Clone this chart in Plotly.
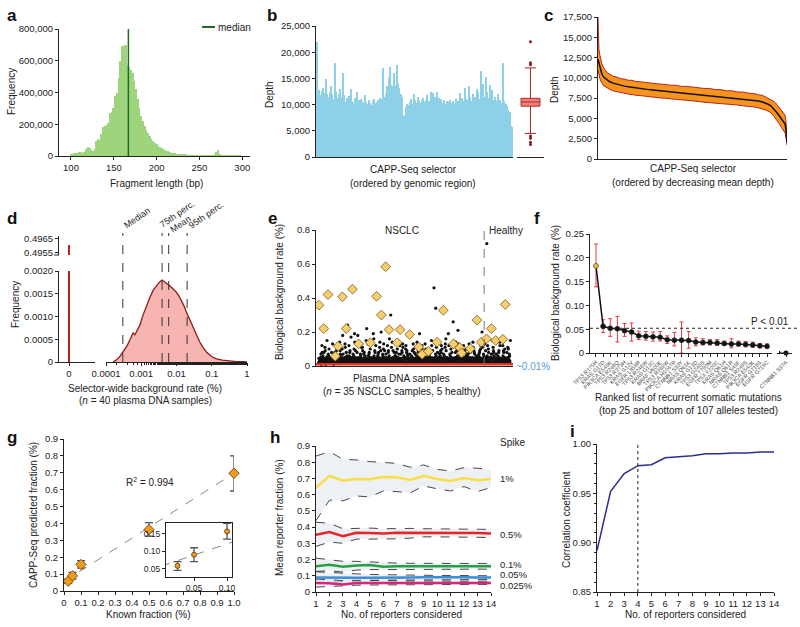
import math
import plotly.graph_objects as go

W, H = 800, 627
FONT = 'Liberation Sans, Arial, sans-serif'

# ---- a: fragment length histogram (counts in thousands, 2 bp bins)
frag_len = list(range(100, 300, 2))
frag_count_k = [12, 15, 18, 20, 22, 25, 24, 22, 28, 45,
                55, 48, 35, 30, 45, 95, 110, 100, 140, 185,
                190, 195, 210, 270, 280, 300, 380, 400, 490, 600,
                690, 695, 700, 575, 560, 540, 525, 470, 420, 360,
                300, 255, 220, 190, 165, 145, 125, 110, 95, 85,
                75, 65, 58, 50, 44, 38, 33, 29, 25, 22,
                19, 16, 14, 12, 10, 9, 8, 7, 6, 5,
                5, 4, 4, 3, 3, 3, 3, 2, 2, 2,
                2, 2, 2, 3, 8, 25, 38, 12, 3, 2,
                2, 2, 2, 2, 2, 2, 2, 3, 3, 2]
frag_median = 167

# ---- b: depth along selector (ordered by genomic region)
b_depth = [22000, 12500, 12800, 11800, 12600, 13200, 12200, 14800, 12000, 11500,
           12400, 13500, 12000, 11000, 18000, 12500, 11200, 12000, 13000, 11500,
           16000, 11800, 10500, 11200, 10800, 11600,
           13000, 10600, 10400, 11200, 10500, 12500, 10800, 10200, 11000, 10600,
           10400, 11800, 10500, 10200, 10800, 10400, 10000, 10600, 11000, 10300,
           10500, 10800, 11200, 10500, 11000,
           17000, 11500, 12000, 13500, 15000, 17200, 13800, 13500, 16000, 13800,
           17500, 14000, 13200, 12000, 11500,
           8000, 7800, 9500, 10200, 10000,
           10500, 11000, 10200, 12000, 10800, 10400, 11500, 10600, 10300, 10900,
           11200, 10500, 10800, 11800, 10400, 10700, 12500, 11000, 12300, 11500,
           10800, 12400, 11200, 10600, 11000, 10400, 10800, 10200, 10600, 10500,
           10400, 10800, 10300, 10600, 10200, 11000, 10500, 10700, 12200, 10400,
           11200, 10600, 13200, 11000, 10800, 13500, 11400, 10600, 12000, 11000,
           11500, 13000, 12500, 11000, 16500, 12000, 14000, 11500, 15200, 12400,
           11200, 13800, 11000, 12800, 10800, 11400, 10600, 12000, 10500, 10800,
           10400, 18000, 10600, 10200, 9800, 9000, 8500, 6000, 5800]
b_box = dict(q1=9700, median=10500, q3=11200, low=4500, high=17000)
b_outliers = [22000, 18000, 17600, 4000, 3600, 2800, 2400]

# ---- c: depth ordered by decreasing mean
c_pos = [0, 0.5, 1, 1.5, 2, 3, 4, 5, 6, 8, 10, 12, 14, 16, 18, 20, 23, 26, 29, 32,
         35, 38, 41, 44, 47, 50, 53, 56, 59, 62, 65, 68, 71, 74, 77, 80, 83, 85, 87,
         88.5, 90, 91.5, 93, 94, 95, 96, 97, 98, 99, 99.5, 100]
c_mean = [12300, 11800, 11200, 10800, 10500, 10100, 9900, 9700, 9550, 9350, 9200,
          9080, 8980, 8900, 8820, 8750, 8660, 8580, 8500, 8430, 8360, 8290, 8220,
          8160, 8100, 8030, 7970, 7900, 7840, 7770, 7700, 7630, 7560, 7490, 7420,
          7340, 7250, 7150, 7020, 6900, 6750, 6550, 6200, 5900, 5600, 5300, 5000,
          4700, 4300, 3500, 2000]
c_upper = [17500, 13500, 12800, 12200, 11800, 11200, 10900, 10600, 10500, 10200,
           10100, 9900, 9850, 9700, 9700, 9550, 9500, 9400, 9350, 9250, 9200, 9100,
           9100, 8950, 8950, 8850, 8800, 8700, 8700, 8550, 8550, 8400, 8400, 8250,
           8250, 8100, 8050, 7900, 7850, 7650, 7550, 7350, 7100, 6900, 6600, 6400,
           6100, 5800, 5400, 4500, 2400]
c_lower = [11000, 10200, 9900, 9600, 9400, 9000, 8900, 8700, 8600, 8400, 8300, 8150,
           8100, 8000, 7950, 7850, 7800, 7700, 7650, 7550, 7500, 7400, 7350, 7300,
           7250, 7150, 7100, 7000, 6950, 6900, 6850, 6750, 6700, 6650, 6550, 6500,
           6400, 6300, 6200, 6050, 5900, 5700, 5300, 5000, 4600, 4300, 3900, 3600,
           3200, 2600, 1700]

# ---- d: selector-wide background rate distribution
d_rate_log10 = [-3.80, -3.70, -3.60, -3.50, -3.40, -3.30, -3.23, -3.18, -3.10, -3.04,
                -2.95, -2.85, -2.75, -2.66, -2.55, -2.48, -2.41, -2.35, -2.28, -2.20,
                -2.10, -2.00, -1.93, -1.86, -1.79, -1.72, -1.62, -1.53, -1.44, -1.34,
                -1.25, -1.15, -1.00, -0.87, -0.70, -0.50, -0.30, -0.10, 0.0]
d_freq = [0, 0.00005, 0.00013, 0.00024, 0.00036, 0.00052, 0.00064, 0.00060, 0.00072,
          0.00081, 0.00103, 0.00125, 0.00143, 0.00158, 0.00170, 0.00176, 0.00180,
          0.00177, 0.00173, 0.00168, 0.00161, 0.00153, 0.00145, 0.00136, 0.00124,
          0.00110, 0.00092, 0.00074, 0.00058, 0.00044, 0.00032, 0.00022, 0.00012,
          0.00007, 0.00004, 0.00002, 0.00001, 0.000005, 0]
d_zero_freq = 0.49605
d_stat_names = ['Median', '75th perc.', 'Mean', '95th perc.']
d_stat_values = [0.0003, 0.0039, 0.006, 0.02]

# ---- e: biological background per sample
e_dots = [
    [0.02, 0.05, 0.08, 0.03, 0.01, 0.06, 0.04, 0.12, 0.02, 0.07],
    [0.03, 0.09, 0.15, 0.04, 0.02, 0.06, 0.11, 0.05, 0.08, 0.01],
    [0.07, 0.02, 0.05, 0.10, 0.03, 0.13, 0.04, 0.08, 0.06, 0.02],
    [0.04, 0.08, 0.02, 0.06, 0.12, 0.05, 0.03, 0.09, 0.01, 0.07],
    [0.02, 0.14, 0.05, 0.03, 0.07, 0.10, 0.04, 0.06, 0.02, 0.09],
    [0.18, 0.05, 0.08, 0.03, 0.11, 0.06, 0.02, 0.04, 0.07, 0.13],
    [0.24, 0.06, 0.17, 0.04, 0.09, 0.03, 0.12, 0.05, 0.02, 0.08],
    [0.05, 0.10, 0.03, 0.07, 0.14, 0.02, 0.06, 0.09, 0.04, 0.19],
    [0.08, 0.03, 0.06, 0.18, 0.04, 0.11, 0.02, 0.07, 0.05, 0.13],
    [0.04, 0.07, 0.02, 0.09, 0.05, 0.15, 0.03, 0.06, 0.11, 0.08],
    [0.22, 0.06, 0.10, 0.04, 0.08, 0.03, 0.13, 0.05, 0.02, 0.07],
    [0.05, 0.19, 0.08, 0.03, 0.06, 0.12, 0.04, 0.09, 0.02, 0.16],
    [0.03, 0.07, 0.14, 0.05, 0.02, 0.09, 0.06, 0.11, 0.04, 0.08],
    [0.20, 0.06, 0.09, 0.04, 0.13, 0.03, 0.07, 0.05, 0.02, 0.10],
    [0.07, 0.04, 0.16, 0.05, 0.09, 0.02, 0.12, 0.06, 0.03, 0.08],
    [0.30, 0.05, 0.08, 0.11, 0.03, 0.06, 0.14, 0.04, 0.02, 0.09],
    [0.06, 0.10, 0.04, 0.08, 0.03, 0.12, 0.05, 0.07, 0.02, 0.15],
    [0.04, 0.08, 0.06, 0.03, 0.11, 0.05, 0.09, 0.02, 0.07, 0.13],
    [0.05, 0.09, 0.03, 0.12, 0.06, 0.04, 0.08, 0.02, 0.10, 0.07],
    [0.07, 0.04, 0.10, 0.05, 0.03, 0.08, 0.06, 0.13, 0.02, 0.09],
    [0.03, 0.06, 0.09, 0.04, 0.11, 0.05, 0.02, 0.08, 0.07, 0.14],
    [0.19, 0.05, 0.07, 0.03, 0.10, 0.06, 0.04, 0.08, 0.02, 0.12],
    [0.04, 0.08, 0.05, 0.13, 0.03, 0.07, 0.10, 0.02, 0.06, 0.09],
    [0.06, 0.03, 0.09, 0.05, 0.12, 0.04, 0.08, 0.02, 0.07, 0.15],
    [0.46, 0.34, 0.08, 0.05, 0.11, 0.03, 0.07, 0.14, 0.04, 0.06],
    [0.05, 0.09, 0.03, 0.07, 0.12, 0.04, 0.06, 0.10, 0.02, 0.08],
    [0.07, 0.13, 0.04, 0.06, 0.09, 0.03, 0.11, 0.05, 0.02, 0.16],
    [0.19, 0.06, 0.08, 0.04, 0.10, 0.03, 0.07, 0.05, 0.12, 0.02],
    [0.26, 0.05, 0.09, 0.03, 0.14, 0.06, 0.04, 0.11, 0.02, 0.08],
    [0.21, 0.07, 0.04, 0.10, 0.05, 0.03, 0.08, 0.06, 0.13, 0.02],
    [0.04, 0.09, 0.06, 0.12, 0.03, 0.07, 0.05, 0.10, 0.02, 0.08],
    [0.06, 0.03, 0.10, 0.05, 0.08, 0.04, 0.13, 0.02, 0.07, 0.09],
    [0.05, 0.08, 0.04, 0.11, 0.03, 0.06, 0.09, 0.02, 0.14, 0.07],
    [0.03, 0.07, 0.12, 0.05, 0.09, 0.04, 0.06, 0.10, 0.02, 0.08],
    [0.20, 0.06, 0.09, 0.04, 0.13, 0.03, 0.07, 0.05, 0.11, 0.02],
    [0.72, 0.08, 0.05, 0.12, 0.03, 0.07, 0.10, 0.04, 0.06, 0.02],
    [0.05, 0.09, 0.03, 0.15, 0.06, 0.04, 0.11, 0.02, 0.07, 0.08],
    [0.07, 0.04, 0.12, 0.05, 0.09, 0.03, 0.06, 0.14, 0.02, 0.08],
    [0.16, 0.06, 0.10, 0.04, 0.08, 0.03, 0.12, 0.05, 0.02, 0.09],
    [0.04, 0.11, 0.06, 0.08, 0.03, 0.15, 0.05, 0.07, 0.02, 0.10],
]
# second, denser layer of low-level calls near the floor
e_low = [0.015, 0.025, 0.035, 0.045, 0.02, 0.03, 0.04, 0.05]
e_diamond_sample = [0.6, 1.6, 2.5, 4.0, 4.6, 5.5, 6.3, 7.6, 8.9, 11.3, 12.6, 13.6, 14.5,
                    15.2, 16.9, 17.5, 19.5, 21.4, 22.1, 23.4, 25.2, 26.5, 28.6, 29.9,
                    30.3, 32.1, 33.5, 34.4, 35.5, 36.5, 37.4, 38.9, 39.4]
e_diamond_rate = [0.358, 0.22, 0.42, 0.057, 0.116, 0.407, 0.22, 0.452, 0.13, 0.137,
                  0.41, 0.30, 0.584, 0.214, 0.137, 0.214, 0.185, 0.112, 0.069, 0.086,
                  0.14, 0.328, 0.13, 0.108, 0.077, 0.102, 0.27, 0.14, 0.16, 0.22,
                  0.15, 0.157, 0.362]
e_n_nsclc = 35
e_n_total = 40
e_floor = 0.01

# ---- f: ranked recurrent mutations
f_labels = ['TP53 R175H', 'KRAS G12D', 'PIK3CA E545K', 'TP53 R248Q', 'TP53 R273H',
            'KRAS G12V', 'EGFR L858R', 'TP53 R248W', 'KRAS G12C', 'BRAF V600E',
            'TP53 R282W', 'PIK3CA H1047R', 'CTNNB1 S33Y', 'NRAS Q61K', 'KRAS G13D',
            'TP53 G245S', 'EGFR T790M', 'TP53 Y220C', 'KRAS Q61H', 'NRAS Q61R',
            'CTNNB1 S45F', 'TP53 R249S', 'PIK3CA E542K', 'EGFR G719S', 'EGFR G719C']
f_rate = [0.183, 0.056, 0.052, 0.051, 0.047, 0.044, 0.036, 0.035, 0.034, 0.033,
          0.028, 0.027, 0.027, 0.026, 0.023, 0.022, 0.022, 0.021, 0.020, 0.019,
          0.019, 0.018, 0.017, 0.015, 0.014]
f_err_hi = [0.229, 0.070, 0.072, 0.077, 0.062, 0.063, 0.046, 0.045, 0.044, 0.045,
            0.036, 0.043, 0.065, 0.045, 0.032, 0.030, 0.028, 0.028, 0.025, 0.030,
            0.025, 0.024, 0.023, 0.020, 0.019]
f_err_lo = [0.139, 0.043, 0.035, 0.023, 0.035, 0.025, 0.028, 0.027, 0.025, 0.025,
            0.020, 0.015, 0.000, 0.010, 0.015, 0.017, 0.017, 0.016, 0.016, 0.011,
            0.015, 0.013, 0.012, 0.011, 0.010]
f_last_label = 'CTNNB1 S37A'
f_last_rate = 0.0
f_threshold = 0.052

# ---- g: spike-in dilution
g_known = [0.025, 0.05, 0.1, 0.5, 1.0]
g_pred = [0.058, 0.090, 0.157, 0.363, 0.697]
g_hi = [0.070, 0.110, 0.180, 0.405, 0.800]
g_lo = [0.045, 0.070, 0.135, 0.325, 0.592]
g_slope, g_intercept = 0.64, 0.057

# ---- h: mean reporter fraction by number of reporters
h_n = list(range(1, 15))
h_spikes = ['1%', '0.5%', '0.1%', '0.05%', '0.025%']
h_colors = ['#F6DF4A', '#E5262A', '#25A044', '#3B8FD8', '#D8267F']
h_mean = [
    [0.644, 0.715, 0.687, 0.697, 0.695, 0.709, 0.707, 0.691, 0.717, 0.697, 0.685, 0.703, 0.689, 0.697],
    [0.353, 0.369, 0.344, 0.365, 0.363, 0.361, 0.365, 0.365, 0.366, 0.365, 0.365, 0.364, 0.364, 0.361],
    [0.158, 0.168, 0.156, 0.164, 0.166, 0.156, 0.158, 0.158, 0.158, 0.160, 0.158, 0.156, 0.157, 0.158],
    [0.090, 0.088, 0.090, 0.088, 0.088, 0.090, 0.089, 0.090, 0.091, 0.092, 0.090, 0.091, 0.090, 0.090],
    [0.055, 0.054, 0.046, 0.055, 0.056, 0.055, 0.056, 0.055, 0.056, 0.056, 0.057, 0.056, 0.057, 0.056],
]
h_upper = [
    [0.838, 0.865, 0.818, 0.814, 0.804, 0.800, 0.793, 0.769, 0.783, 0.756, 0.746, 0.767, 0.763, 0.754],
    [0.430, 0.424, 0.390, 0.394, 0.394, 0.390, 0.392, 0.392, 0.390, 0.390, 0.388, 0.388, 0.386, 0.386],
    [0.209, 0.199, 0.189, 0.189, 0.185, 0.178, 0.178, 0.177, 0.178, 0.177, 0.176, 0.176, 0.176, 0.176],
    [0.125, 0.120, 0.113, 0.112, 0.108, 0.106, 0.104, 0.104, 0.103, 0.102, 0.102, 0.101, 0.100, 0.100],
    [0.080, 0.075, 0.070, 0.072, 0.070, 0.070, 0.069, 0.068, 0.068, 0.067, 0.067, 0.066, 0.066, 0.066],
]
h_lower = [
    [0.440, 0.566, 0.562, 0.592, 0.586, 0.623, 0.619, 0.611, 0.654, 0.636, 0.623, 0.650, 0.619, 0.644],
    [0.281, 0.308, 0.300, 0.326, 0.326, 0.326, 0.328, 0.332, 0.340, 0.340, 0.340, 0.338, 0.340, 0.336],
    [0.127, 0.131, 0.123, 0.135, 0.138, 0.138, 0.140, 0.140, 0.141, 0.140, 0.141, 0.141, 0.140, 0.141],
    [0.055, 0.060, 0.065, 0.070, 0.072, 0.073, 0.074, 0.075, 0.075, 0.076, 0.076, 0.076, 0.077, 0.077],
    [0.030, 0.035, 0.038, 0.042, 0.043, 0.044, 0.045, 0.045, 0.046, 0.046, 0.046, 0.046, 0.047, 0.047],
]

# ---- i: correlation vs number of reporters
i_n = list(range(1, 15))
i_corr = [0.892, 0.952, 0.970, 0.978, 0.979, 0.986, 0.987, 0.988, 0.990, 0.990,
          0.991, 0.991, 0.992, 0.992]
i_cut = 4


def px(x):
    return x / W


def py(y):
    return 1 - y / H


def dx(a, b):
    return [a / W, b / W]


def dy(top, bottom):
    return [1 - bottom / H, 1 - top / H]


base = dict(showline=True, linecolor='#222', linewidth=1, ticks='outside', ticklen=3,
            tickcolor='#222', tickwidth=1, showgrid=False, zeroline=False, automargin=False,
            tickfont=dict(size=9.5, color='#222', family=FONT), fixedrange=True)
noticks = dict(showline=True, linecolor='#222', linewidth=1, ticks='', showticklabels=False,
               showgrid=False, zeroline=False, fixedrange=True, automargin=False)

fig = go.Figure()
layout = {}
shapes = []
annotations = []


def title(text, x, y, angle=0, size=10, xanchor='center', yanchor='middle', color='#222'):
    annotations.append(dict(text=text, x=px(x), y=py(y), xref='paper', yref='paper',
                            showarrow=False, textangle=angle, xanchor=xanchor, yanchor=yanchor,
                            font=dict(size=size, family=FONT, color=color)))


# ---------------- a
fig.add_trace(go.Bar(x=frag_len, y=[c * 1000 for c in frag_count_k], width=2,
                     marker=dict(color='#9ED47B', line=dict(width=0)),
                     xaxis='x', yaxis='y'))
layout['xaxis'] = dict(base, domain=dx(59, 250), anchor='y', range=[86, 309],
                       tickvals=[100, 150, 200, 250, 300])
layout['yaxis'] = dict(base, domain=dy(29, 156), anchor='x', range=[0, 800000],
                       tickvals=[0, 200000, 400000, 600000, 800000], tickformat=',')
shapes.append(dict(type='line', xref='x', yref='y', x0=frag_median, x1=frag_median,
                   y0=0, y1=800000, line=dict(color='#1E6B2A', width=1.5)))
shapes.append(dict(type='line', xref='paper', yref='paper', x0=px(202), x1=px(215),
                   y0=py(27), y1=py(27), line=dict(color='#1E6B2A', width=2)))
title('median', 216, 27, xanchor='left')
title('Frequency', 12, 92, angle=-90)
title('Fragment length (bp)', 156, 183)

# ---------------- b
fig.add_trace(go.Bar(x=list(range(len(b_depth))), y=b_depth, width=1,
                     marker=dict(color='#8DD0E8', line=dict(width=0)),
                     xaxis='x2', yaxis='y2'))
layout['xaxis2'] = dict(noticks, domain=dx(316, 513), anchor='y2',
                        range=[-0.5, len(b_depth) - 0.5])
layout['yaxis2'] = dict(base, domain=dy(26, 157), anchor='x2', range=[0, 25000],
                        tickvals=[0, 5000, 10000, 15000, 20000, 25000], tickformat=',')
fig.add_trace(go.Box(x=[0], q1=[b_box['q1']], median=[b_box['median']], q3=[b_box['q3']],
                     lowerfence=[b_box['low']], upperfence=[b_box['high']],
                     fillcolor='#F2817C', line=dict(color='#B3261E', width=1),
                     width=0.7, whiskerwidth=0.6, boxpoints=False,
                     xaxis='x3', yaxis='y3'))
fig.add_trace(go.Scatter(x=[0] * len(b_outliers), y=b_outliers, mode='markers',
                         marker=dict(size=3, color='#8B1A1A'), xaxis='x3', yaxis='y3'))
layout['xaxis3'] = dict(noticks, domain=dx(517, 544), anchor='y3', range=[-0.5, 0.5])
layout['yaxis3'] = dict(noticks, domain=dy(26, 157), anchor='x3', range=[0, 25000],
                        showline=False)
title('Depth', 270, 95, angle=-90)
title('CAPP-Seq selector', 413, 169)
title('(ordered by genomic region)', 413, 183)

# ---------------- c
fig.add_trace(go.Scatter(x=c_pos, y=c_lower, mode='lines', line=dict(color='#B0271F', width=1),
                         xaxis='x4', yaxis='y4'))
fig.add_trace(go.Scatter(x=c_pos, y=c_upper, mode='lines', line=dict(color='#B0271F', width=1),
                         fill='tonexty', fillcolor='#F7941D', xaxis='x4', yaxis='y4'))
fig.add_trace(go.Scatter(x=c_pos, y=c_mean, mode='lines', line=dict(color='#111', width=1.5),
                         xaxis='x4', yaxis='y4'))
layout['xaxis4'] = dict(noticks, domain=dx(598, 787), anchor='y4', range=[0, 100])
layout['yaxis4'] = dict(base, domain=dy(17, 159), anchor='x4', range=[0, 17500],
                        tickvals=list(range(0, 17501, 2500)), tickformat=',')
title('Depth', 555, 90, angle=-90)
title('CAPP-Seq selector', 693, 168)
title('(ordered by decreasing mean depth)', 693, 182)

# ---------------- d
fig.add_trace(go.Scatter(x=[0, 0], y=[0, 0.002], mode='lines', line=dict(color='#B3261E', width=2),
                         xaxis='x5', yaxis='y5'))
fig.add_trace(go.Scatter(x=[0, 0], y=[0.4953, d_zero_freq], mode='lines',
                         line=dict(color='#B3261E', width=2), xaxis='x5', yaxis='y6'))
fig.add_trace(go.Scatter(x=[10 ** v for v in d_rate_log10], y=d_freq, mode='lines',
                         line=dict(color='#8E1B1B', width=1.3), fill='tozeroy',
                         fillcolor='#F6B5B0', xaxis='x6', yaxis='y5'))
layout['xaxis5'] = dict(base, domain=dx(59, 95), anchor='y5', range=[-0.5, 1.3],
                        tickvals=[0], ticktext=['0'])
layout['xaxis6'] = dict(base, domain=dx(106, 247), anchor='y5', type='log', range=[-4, 0],
                        tickvals=[0.0001, 0.001, 0.01, 0.1, 1],
                        ticktext=['0.0001', '0.001', '0.01', '0.1', '1'],
                        minor=dict(ticks='outside', ticklen=2, tickcolor='#222'))
layout['yaxis5'] = dict(base, domain=dy(271, 362), anchor='x5', range=[0, 0.002],
                        tickvals=[0, 0.0005, 0.001, 0.0015, 0.002],
                        ticktext=['0', '0.0005', '0.0010', '0.0015', '0.0020'])
layout['yaxis6'] = dict(base, domain=dy(236, 255), anchor='x5', range=[0.49534, 0.49669],
                        tickvals=[0.4955, 0.4965], ticktext=['0.4955', '0.4965'])
# little break mark closing the upper y-axis segment
shapes.append(dict(type='line', xref='paper', yref='paper', x0=px(54), x1=px(59),
                   y0=py(255), y1=py(255), line=dict(color='#222', width=1)))
label_shift = {'Median': (0, 0), '75th perc.': (-3, 1), 'Mean': (1, -4), '95th perc.': (1, 0)}
for name, val in zip(d_stat_names, d_stat_values):
    shapes.append(dict(type='line', xref='x6', yref='paper', x0=val, x1=val,
                       y0=py(362), y1=py(233), line=dict(color='#333', width=1, dash='dash')))
    sx, sy = label_shift[name]
    annotations.append(dict(text=name, x=math.log10(val), xref='x6', y=py(233), yref='paper',
                            showarrow=False, textangle=-35, xanchor='left', yanchor='bottom',
                            xshift=-4 + sx, yshift=sy,
                            font=dict(size=9, family=FONT, color='#222')))
title('Frequency', 15, 305, angle=-90)
title('Selector-wide background rate (%)', 145, 388)
title('(<i>n</i> = 40 plasma DNA samples)', 145, 400)

# ---------------- e
dot_x, dot_y = [], []
for s, vals in enumerate(e_dots, start=1):
    row = vals + e_low
    for j, v in enumerate(row):
        dot_x.append(s - 0.45 + 0.9 * ((j * 7) % len(row)) / (len(row) - 1))
        dot_y.append(v)
fig.add_trace(go.Scatter(x=dot_x, y=dot_y, mode='markers',
                         marker=dict(size=3.2, color='#111'), xaxis='x7', yaxis='y7'))
fig.add_trace(go.Scatter(x=[0, e_n_total + 1], y=[e_floor, e_floor], mode='lines',
                         line=dict(color='#E2301F', width=2.5), xaxis='x7', yaxis='y7'))
fig.add_trace(go.Scatter(x=e_diamond_sample, y=e_diamond_rate, mode='markers',
                         marker=dict(symbol='diamond', size=7.5, color='#F7CE6E',
                                     line=dict(color='#7A5A12', width=0.8)),
                         xaxis='x7', yaxis='y7'))
layout['xaxis7'] = dict(noticks, domain=dx(316, 513), anchor='y7', range=[0, e_n_total + 1])
layout['yaxis7'] = dict(base, domain=dy(230, 366), anchor='x7', range=[0, 0.8],
                        tickvals=[0, 0.2, 0.4, 0.6, 0.8])
shapes.append(dict(type='line', xref='x7', yref='paper', x0=e_n_nsclc, x1=e_n_nsclc,
                   y0=py(366), y1=py(228), line=dict(color='#777', width=1, dash='dash')))
title('NSCLC', 402, 230)
title('Healthy', 506, 230)
title('~0.01%', 514, 366, xanchor='left', color='#5B9BD5')
title('Biological background rate (%)', 279, 292, angle=-90)
title('Plasma DNA samples', 402, 378)
title('(<i>n</i> = 35 NSCLC samples, 5 healthy)', 402, 391)

# ---------------- f
f_x = list(range(len(f_rate)))
fig.add_trace(go.Scatter(x=f_x, y=f_rate, mode='lines+markers',
                         line=dict(color='#111', width=1.5),
                         marker=dict(size=5, color=['#F5B942'] + ['#111'] * (len(f_rate) - 1),
                                     line=dict(color='#333', width=0.6)),
                         error_y=dict(type='data', symmetric=False,
                                      array=[h - v for h, v in zip(f_err_hi, f_rate)],
                                      arrayminus=[v - l for l, v in zip(f_err_lo, f_rate)],
                                      color='#E33B45', thickness=1, width=2),
                         xaxis='x8', yaxis='y8'))
fig.add_trace(go.Scatter(x=[0], y=[f_last_rate], mode='markers',
                         marker=dict(size=5, color='#111'),
                         error_x=dict(type='data', symmetric=False, array=[0], arrayminus=[0.85],
                                      color='#111', thickness=1.2, width=2),
                         xaxis='x9', yaxis='y8', cliponaxis=False))
layout['xaxis8'] = dict(base, domain=dx(590, 772), anchor='y8', range=[-0.84, 24.7],
                        tickvals=f_x, ticktext=f_labels, tickangle=-45,
                        tickfont=dict(size=5.5, family=FONT, color='#444'))
layout['xaxis9'] = dict(base, domain=dx(777, 792), anchor='y8', range=[-1.2, 0.8],
                        tickvals=[0], ticktext=[f_last_label], tickangle=-45,
                        tickfont=dict(size=5.5, family=FONT, color='#444'))
layout['yaxis8'] = dict(base, domain=dy(234, 353), anchor='x8', range=[0, 0.25],
                        tickvals=[0, 0.05, 0.1, 0.15, 0.2, 0.25],
                        ticktext=['0', '0.05', '0.10', '0.15', '0.20', '0.25'])
shapes.append(dict(type='line', xref='paper', yref='y8', x0=px(590), x1=px(797),
                   y0=f_threshold, y1=f_threshold, line=dict(color='#222', width=1, dash='dot')))
title('P < 0.01', 770, 321)
title('Biological background rate (%)', 555, 293, angle=-90)
title('Ranked list of recurrent somatic mutations', 688, 398)
title('(top 25 and bottom of 107 alleles tested)', 688, 410)

# ---------------- g
for xa, ya in (('x10', 'y10'), ('x11', 'y11')):
    fig.add_trace(go.Scatter(x=[0, 1.0], y=[g_intercept, g_intercept + g_slope], mode='lines',
                             line=dict(color='#888', width=1, dash='dash'), xaxis=xa, yaxis=ya))
    fig.add_trace(go.Scatter(x=g_known, y=g_pred, mode='markers',
                             marker=dict(symbol='diamond' if xa == 'x10' else 'circle',
                                         size=8 if xa == 'x10' else 5, color='#F29A1E',
                                         line=dict(color='#5A3A0A', width=0.8)),
                             error_y=dict(type='data', symmetric=False,
                                          array=[h - v for h, v in zip(g_hi, g_pred)],
                                          arrayminus=[v - l for l, v in zip(g_lo, g_pred)],
                                          color='#555', thickness=1.3, width=4),
                             xaxis=xa, yaxis=ya, cliponaxis=False))
layout['xaxis10'] = dict(base, domain=dx(64, 234), anchor='y10', range=[0, 1.0],
                         tickvals=[i / 10 for i in range(11)],
                         ticktext=['0'] + ['%.1f' % (i / 10) for i in range(1, 11)])
layout['yaxis10'] = dict(base, domain=dy(439, 591), anchor='x10', range=[0, 0.9],
                         tickvals=[i / 10 for i in range(10)],
                         ticktext=['0'] + ['%.1f' % (i / 10) for i in range(1, 10)])
layout['xaxis11'] = dict(base, domain=dx(166, 232), anchor='y11', range=[0.0075, 0.1075],
                         mirror=True, tickvals=[0.05, 0.1], ticktext=['0.05', '0.10'],
                         tickfont=dict(size=8.5, family=FONT, color='#222'))
layout['yaxis11'] = dict(base, domain=dy(523, 577), anchor='x11', range=[0.026, 0.181],
                         mirror=True, tickvals=[0.05, 0.1, 0.15], ticktext=['0.05', '0.10', '0.15'],
                         tickfont=dict(size=8.5, family=FONT, color='#222'))
title('R<sup>2</sup> = 0.994', 150, 482)
title('CAPP-Seq predicted fraction (%)', 33, 515, angle=-90)
title('Known fraction (%)', 148, 614)

# ---------------- h
for k in range(len(h_spikes)):
    fig.add_trace(go.Scatter(x=h_n, y=h_upper[k], mode='lines',
                             line=dict(color='#333', width=0.9, dash='dash'),
                             xaxis='x12', yaxis='y12'))
    fig.add_trace(go.Scatter(x=h_n, y=h_lower[k], mode='lines',
                             line=dict(color='#333', width=0.9, dash='dash'),
                             fill='tonexty', fillcolor='rgba(225,230,236,0.6)',
                             xaxis='x12', yaxis='y12'))
for k in range(len(h_spikes)):
    fig.add_trace(go.Scatter(x=h_n, y=h_mean[k], mode='lines',
                             line=dict(color=h_colors[k], width=2.5),
                             xaxis='x12', yaxis='y12'))
layout['xaxis12'] = dict(base, domain=dx(316, 491), anchor='y12', range=[1, 14],
                         tickvals=h_n)
layout['yaxis12'] = dict(base, domain=dy(446, 592), anchor='x12', range=[0, 0.9],
                         tickvals=[i / 10 for i in range(10)],
                         ticktext=['0'] + ['%.1f' % (i / 10) for i in range(1, 10)])
title('Spike', 498, 442, xanchor='left')
for lab, yy in zip(h_spikes, [478, 534, 564, 574.5, 585]):
    title(lab, 498, yy, xanchor='left', size=9.5)
title('Mean reporter fraction (%)', 279, 518, angle=-90)
title('No. of reporters considered', 402, 614)

# ---------------- i
fig.add_trace(go.Scatter(x=i_n, y=i_corr, mode='lines', line=dict(color='#2B2F8F', width=1.5),
                         xaxis='x13', yaxis='y13'))
layout['xaxis13'] = dict(base, domain=dx(597, 774), anchor='y13', range=[1, 14], tickvals=i_n)
layout['yaxis13'] = dict(base, domain=dy(444, 592), anchor='x13', range=[0.85, 1.0],
                         tickvals=[0.85, 0.9, 0.95, 1.0], ticktext=['0.85', '0.90', '0.95', '1.00'],
                         minor=dict(ticks='outside', ticklen=2, tickcolor='#222', dtick=0.01))
shapes.append(dict(type='line', xref='x13', yref='y13', x0=i_cut, x1=i_cut, y0=0.85, y1=1.0,
                   line=dict(color='#222', width=1, dash='dot')))
title('Correlation coefficient', 566, 520, angle=-90)
title('No. of reporters considered', 685, 614)

# ---------------- panel letters
for letter, x, y in [('a', 12, 15), ('b', 272, 15), ('c', 548, 15),
                     ('d', 12, 218), ('e', 272, 218), ('f', 537, 218),
                     ('g', 12, 437), ('h', 275, 437), ('i', 572, 431)]:
    title('<b>%s</b>' % letter, x, y, size=17, color='#111')

fig.update_layout(**layout)
fig.update_layout(width=W, height=H, margin=dict(l=0, r=0, t=0, b=0), showlegend=False,
                  paper_bgcolor='white', plot_bgcolor='rgba(0,0,0,0)', bargap=0,
                  font=dict(family=FONT, size=10, color='#222'),
                  shapes=shapes, annotations=annotations)

fig.write_html("out.html", config=dict(displayModeBar=False),
               post_script="document.body.style.margin='0';")
